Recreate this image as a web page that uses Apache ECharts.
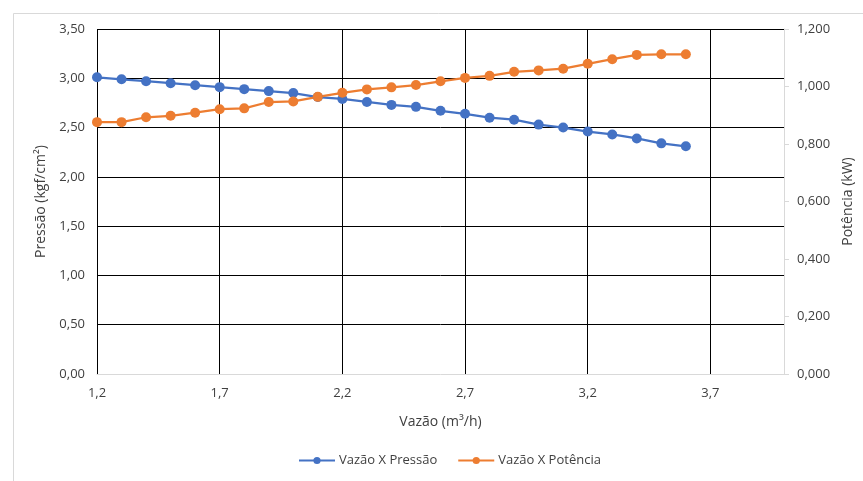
<!DOCTYPE html>
<html>
<head>
<meta charset="utf-8">
<script src="https://cdn.jsdelivr.net/npm/echarts@6/dist/echarts.min.js"></script>
<style>
  html, body { margin: 0; padding: 0; background: #fff; }
  #chart { width: 863px; height: 481px; }
</style>
</head>
<body>
<div id="chart"></div>
<script>
// Vazão (m³/h) em cada ponto medido
const vazao = [1.2, 1.3, 1.4, 1.5, 1.6, 1.7, 1.8, 1.9, 2.0, 2.1, 2.2, 2.3, 2.4,
               2.5, 2.6, 2.7, 2.8, 2.9, 3.0, 3.1, 3.2, 3.3, 3.4, 3.5, 3.6];
// Pressão (kgf/cm²)
const pressao = [3.01, 2.99, 2.97, 2.95, 2.93, 2.91, 2.89, 2.87, 2.85, 2.81, 2.79, 2.76, 2.73,
                 2.71, 2.67, 2.64, 2.60, 2.58, 2.53, 2.50, 2.46, 2.43, 2.39, 2.34, 2.31];
// Potência (kW)
const potencia = [0.876, 0.876, 0.893, 0.898, 0.909, 0.921, 0.924, 0.946, 0.948, 0.964, 0.978, 0.990, 0.997,
                  1.005, 1.018, 1.030, 1.037, 1.051, 1.056, 1.062, 1.079, 1.095, 1.110, 1.112, 1.112];

const serieNames = ['Vazão X Pressão', 'Vazão X Potência'];
const xTitle = 'Vazão (m³/h)';
const yLeftTitle = 'Pressão (kgf/cm²)';
const yRightTitle = 'Potência (kW)';

const FONT = '"Open Sans", "Noto Sans", sans-serif';
const TXT = '#404040';
const GRAY = '#d9d9d9';
const comma = (v, d) => v.toFixed(d).replace('.', ',');

const chart = echarts.init(document.getElementById('chart'), null, { renderer: 'canvas' });
chart.setOption({
  animation: false,
  backgroundColor: '#fff',
  textStyle: { fontFamily: FONT },
  graphic: [{
    type: 'rect', left: 11, top: 11, silent: true, z: -10,
    shape: { width: 900, height: 500 },
    style: { fill: 'none', stroke: GRAY, lineWidth: 1 }
  }],
  grid: { left: 97, right: 79, top: 29, bottom: 107 },
  legend: {
    bottom: 9, left: 293,
    itemWidth: 36, itemHeight: 9, itemGap: 20,
    textStyle: { color: TXT, fontSize: 13, fontFamily: FONT, padding: [0, 0, 0, -1] },
    data: serieNames
  },
  xAxis: {
    type: 'value', min: 1.2, max: 4.0, interval: 0.5,
    name: xTitle, nameLocation: 'middle', nameGap: 41,
    nameTextStyle: { color: TXT, fontSize: 14, fontFamily: FONT },
    axisLine: { show: true, lineStyle: { color: GRAY, width: 1 } },
    axisTick: { show: false },
    axisLabel: { color: TXT, fontSize: 13, margin: 13, showMaxLabel: false,
                 formatter: v => comma(v, 1) },
    splitLine: { show: true, showMaxLine: false, lineStyle: { color: '#000', width: 1 } }
  },
  yAxis: [{
    type: 'value', min: 0, max: 3.5, interval: 0.5,
    name: yLeftTitle, nameLocation: 'middle', nameGap: 46,
    nameTextStyle: { color: TXT, fontSize: 14, fontFamily: FONT },
    axisLine: { show: false }, axisTick: { show: false },
    axisLabel: { color: TXT, fontSize: 13, margin: 12, formatter: v => comma(v, 2) },
    splitLine: { show: true, showMinLine: false, lineStyle: { color: '#000', width: 1 } }
  }, {
    type: 'value', min: 0, max: 1.2, interval: 0.2, position: 'right',
    name: yRightTitle, nameLocation: 'middle', nameGap: 56,
    nameTextStyle: { color: TXT, fontSize: 14, fontFamily: FONT },
    axisLine: { show: true, lineStyle: { color: GRAY, width: 1 } },
    axisTick: { show: true, inside: false, length: 5, lineStyle: { color: GRAY } },
    axisLabel: { color: TXT, fontSize: 13, margin: 13, formatter: v => comma(v, 3) },
    splitLine: { show: false }
  }],
  series: [{
    name: serieNames[0], type: 'line', yAxisIndex: 0,
    data: vazao.map((x, i) => [x, pressao[i]]),
    symbol: 'circle', symbolSize: 10,
    itemStyle: { color: '#4472C4' },
    lineStyle: { color: '#4472C4', width: 2.25 }
  }, {
    name: serieNames[1], type: 'line', yAxisIndex: 1,
    data: vazao.map((x, i) => [x, potencia[i]]),
    symbol: 'circle', symbolSize: 10,
    itemStyle: { color: '#ED7D31' },
    lineStyle: { color: '#ED7D31', width: 2.25 }
  }]
});
</script>
</body>
</html>
